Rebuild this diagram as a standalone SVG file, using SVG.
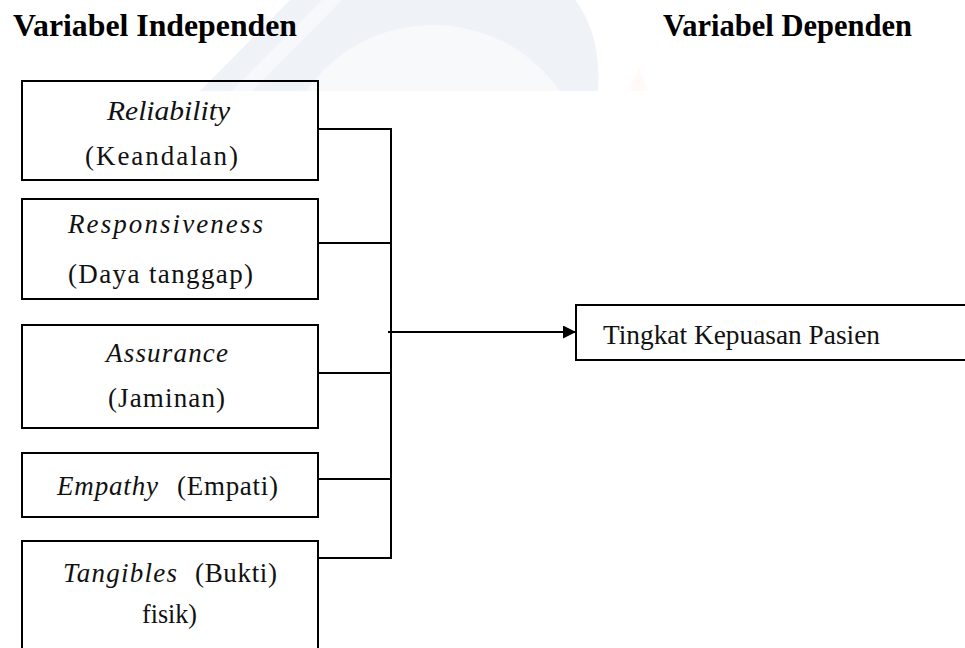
<svg xmlns="http://www.w3.org/2000/svg" width="965" height="648" viewBox="0 0 965 648">
<style>
.box{fill:none;stroke:#000;stroke-width:2}
.t{font-family:"Liberation Serif","Times New Roman",serif;font-size:27px;fill:#111}
.i{font-style:italic}
.h{font-family:"Liberation Serif","Times New Roman",serif;font-size:31px;font-weight:bold;fill:#000}
.ln{fill:none;stroke:#000;stroke-width:2}
</style>
<defs>
<clipPath id="wm"><rect x="0" y="0" width="965" height="91"/></clipPath>
<marker id="ah" viewBox="0 0 13 13" refX="13" refY="6.5" markerWidth="13" markerHeight="13" markerUnits="userSpaceOnUse" orient="auto"><path d="M0,0 L13,6.5 L0,13 Z" fill="#000"/></marker>
</defs>
<rect width="965" height="648" fill="#fff"/>
<g id="watermark" clip-path="url(#wm)">
<path d="M290,0 L575,0 C595,25 600,60 598,91 L200,91 Z" fill="#eff2f7"/>
<path d="M322,0 L342,0 L252,91 L232,91 Z" fill="#f7f8fb"/>
<circle cx="433" cy="180" r="155" fill="#f8f9fb"/>
<path d="M628,91 L640,68 L648,91 Z" fill="#fffaf8"/>
</g>
<g id="headings">
<text class="h" x="13" y="36" textLength="284" lengthAdjust="spacingAndGlyphs">Variabel Independen</text>
<text class="h" x="663" y="36" textLength="249" lengthAdjust="spacingAndGlyphs">Variabel Dependen</text>
</g>
<g id="reliability">
<rect class="box" x="22" y="81" width="296" height="99"/>
<text class="t i" x="107" y="120" textLength="123" lengthAdjust="spacingAndGlyphs">Reliability</text>
<text class="t" x="85" y="165" textLength="153" lengthAdjust="spacing">(Keandalan)</text>
</g>
<g id="responsiveness">
<rect class="box" x="22" y="199" width="296" height="100"/>
<text class="t i" x="68" y="233" textLength="195" lengthAdjust="spacing">Responsiveness</text>
<text class="t" x="68" y="283" textLength="185" lengthAdjust="spacing">(Daya  tanggap)</text>
</g>
<g id="assurance">
<rect class="box" x="22" y="325" width="296" height="103"/>
<text class="t i" x="106" y="362" textLength="122" lengthAdjust="spacing">Assurance</text>
<text class="t" x="108" y="407" textLength="117" lengthAdjust="spacing">(Jaminan)</text>
</g>
<g id="empathy">
<rect class="box" x="22" y="453" width="296" height="64"/>
<text class="t i" x="57" y="495" textLength="101" lengthAdjust="spacing">Empathy</text>
<text class="t" x="177" y="495" textLength="101" lengthAdjust="spacing">(Empati)</text>
</g>
<g id="tangibles">
<rect class="box" x="22" y="541" width="296" height="130"/>
<text class="t i" x="63" y="582" textLength="114" lengthAdjust="spacing">Tangibles</text>
<text class="t" x="195" y="582" textLength="82" lengthAdjust="spacing">(Bukti)</text>
<text class="t" x="142" y="623" textLength="55" lengthAdjust="spacingAndGlyphs">fisik)</text>
</g>
<g id="kepuasan">
<rect class="box" x="576" y="305" width="400" height="55"/>
<text class="t" x="603" y="344" textLength="277" lengthAdjust="spacingAndGlyphs">Tingkat  Kepuasan  Pasien</text>
</g>
<g id="connectors">
<path class="ln" d="M318,129 H391 M318,243 H391 M318,373 H391 M318,479 H391 M318,558 H391 M391,128 V559"/>
<line class="ln" x1="388" y1="332" x2="576" y2="332" marker-end="url(#ah)"/>
</g>
</svg>
